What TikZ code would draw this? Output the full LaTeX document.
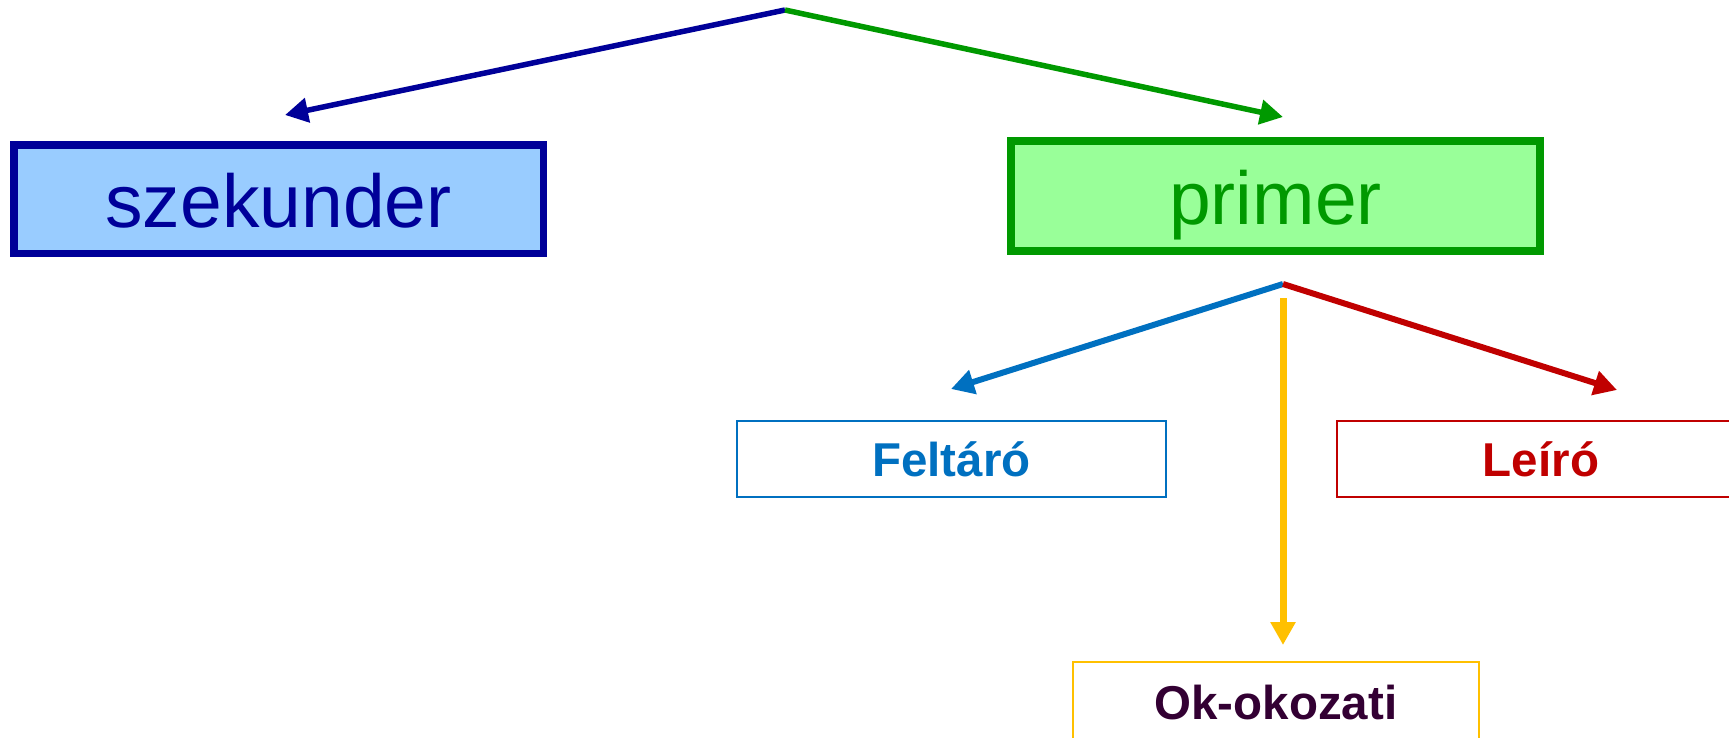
\documentclass[tikz,border=0pt]{standalone}
\usepackage{fontspec}
\setmainfont{Liberation Sans}
\usetikzlibrary{arrows.meta}
\definecolor{navy}{HTML}{000099}
\definecolor{skyfill}{HTML}{99CCFF}
\definecolor{grn}{HTML}{009900}
\definecolor{mintfill}{HTML}{99FF99}
\definecolor{azure}{HTML}{0070C0}
\definecolor{crimson}{HTML}{C00000}
\definecolor{amber}{HTML}{FFC000}
\definecolor{plum}{HTML}{330033}
\begin{document}
\begin{tikzpicture}[x=1pt,y=-1pt,
  bigbox/.style={draw, line width=7.5pt, inner sep=0pt,
    text height=56pt, text depth=0pt,
    font=\fontsize{75}{80}\selectfont},
  smallbox/.style={draw, line width=2pt, inner sep=0pt, minimum height=76pt,
    text height=35pt, text depth=0pt,
    font=\fontsize{47.5}{50}\selectfont\bfseries},
  link/.style={-{Triangle[length=23pt,width=24pt]}},
]
\useasboundingbox (0,0) rectangle (1729,737);
\clip (0,0) rectangle (1729,737);

% main categories
\node[bigbox, draw=navy, fill=skyfill, text=navy,
      minimum width=529.5pt, minimum height=108.5pt] (szek) at (278.5,199) {szekunder};
\node[bigbox, draw=grn, fill=mintfill, text=grn, line width=8pt,
      minimum width=529pt, minimum height=110pt] (prim) at (1275.5,196) {primer};

% top fork
\coordinate (top) at (785,10);
\coordinate (tipL) at (285,115);
\coordinate (tipR) at (1283,117);
\draw[link, navy, line width=5.5pt] (top) -- (tipL);
\draw[link, grn, line width=5.5pt] (top) -- (tipR);

% primary research types
\node[smallbox, draw=azure, text=azure, minimum width=429pt] (felt) at (951.5,459) {Feltáró};
\node[smallbox, draw=crimson, text=crimson, minimum width=408pt] (leir) at (1541,458.5) {Leíró};
\node[smallbox, draw=amber, text=plum, minimum width=406pt,
      minimum height=84pt, text height=30pt] (okok) at (1276,704) {Ok-okozati};

% lower fork
\coordinate (fork) at (1283,284);
\coordinate (drop) at (1283,298);
\coordinate (tipF) at (951,389);
\coordinate (tipLe) at (1617,390);
\coordinate (tipO) at (1283,645);
\draw[link, azure, line width=6pt] (fork) -- (tipF);
\draw[link, crimson, line width=6pt] (fork) -- (tipLe);
\draw[link, amber, line width=7pt] (drop) -- (tipO);
\end{tikzpicture}
\end{document}
